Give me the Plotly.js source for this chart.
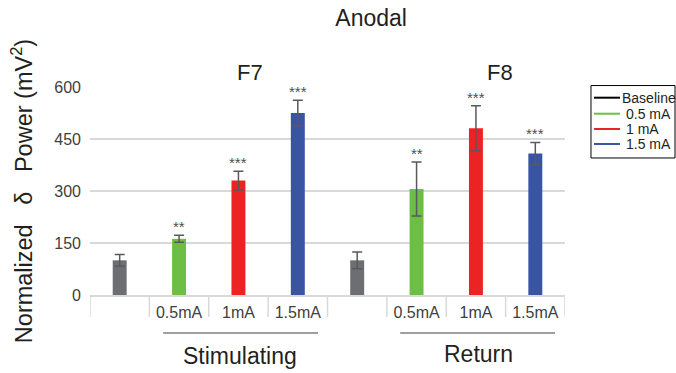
<!DOCTYPE html>
<html>
<head>
<meta charset="utf-8">
<script src="https://cdn.plot.ly/plotly-3.0.1.min.js"></script>
<style>html,body{margin:0;padding:0;background:#fff;}#chart{width:676px;height:373px;}</style>
</head>
<body>
<div id="chart"></div>
<script>
// ---- data ----
const electrodes = ['F7', 'F8'];
const levels = ['Baseline', '0.5mA', '1mA', '1.5mA'];
const tickLabels = ['', '0.5mA', '1mA', '1.5mA', '', '0.5mA', '1mA', '1.5mA'];
const seriesNames = ['Baseline', '0.5 mA', '1 mA', '1.5 mA'];
const groupLabels = ['Stimulating', 'Return'];
const baselineVals = [100, 100];
const baselineErr = [17, 24];
const vals05 = [162, 306];
const err05 = [10, 78];
const vals1 = [330, 481];
const err1 = [27, 65];
const vals15 = [525, 408];
const err15 = [37, 32];
const stars05 = ['**', '**'];
const stars1 = ['***', '***'];
const stars15 = ['***', '***'];
const yTicks = [0, 150, 300, 450, 600];

// ---- build ----
const categories = [];
electrodes.forEach(e => levels.forEach(l => categories.push(e + ' ' + l)));
const shownTickVals = categories.filter((c, i) => tickLabels[i] !== '');
const shownTickText = tickLabels.filter(t => t !== '');
const colors = ['#6d6e71', '#6cbe45', '#ed2224', '#3a54a4'];
const legendLineColors = ['#000000', '#6cbe45', '#ed2224', '#3a54a4'];
const seriesVals = [baselineVals, vals05, vals1, vals15];
const seriesErr = [baselineErr, err05, err1, err15];
const seriesStars = [null, stars05, stars1, stars15];
const FONT = '"Liberation Sans", Arial, sans-serif';

const traces = seriesVals.map((vals, s) => ({
  type: 'bar',
  name: seriesNames[s],
  x: electrodes.map(e => e + ' ' + levels[s]),
  y: vals,
  width: 0.235,
  marker: {color: colors[s]},
  error_y: {type: 'data', array: seriesErr[s], visible: true, color: '#595959', thickness: 1.5, width: 5},
  showlegend: false,
  hoverinfo: 'x+y'
}));

const annotations = [];
const shapes = [];
// significance stars
seriesStars.forEach((st, s) => {
  if (!st) return;
  st.forEach((txt, i) => {
    annotations.push({
      x: electrodes[i] + ' ' + levels[s], xref: 'x',
      y: seriesVals[s][i] + seriesErr[s][i], yref: 'y',
      text: txt, showarrow: false, yanchor: 'bottom', yshift: -2,
      font: {family: FONT, size: 15, color: '#505050'}
    });
  });
});
// electrode labels
const elecX = [0.336, 0.863];
electrodes.forEach((e, i) => annotations.push({
  x: elecX[i], xref: 'paper', y: 1.072, yref: 'paper', text: e, showarrow: false,
  xanchor: 'center', yanchor: 'middle', font: {family: FONT, size: 22, color: '#231f20'}
}));
// group labels and underline
const groupText = [[0.316, -0.293], [0.818, -0.284]];
const groupLine = [[0.154, 0.48], [0.653, 0.979]];
groupLabels.forEach((g, i) => {
  annotations.push({
    x: groupText[i][0], xref: 'paper', y: groupText[i][1], yref: 'paper', text: g, showarrow: false,
    xanchor: 'center', yanchor: 'middle', font: {family: FONT, size: 23, color: '#231f20'}
  });
  shapes.push({type: 'line', xref: 'paper', yref: 'paper', x0: groupLine[i][0], x1: groupLine[i][1],
    y0: -0.183, y1: -0.183, line: {color: '#7f7f7f', width: 1.5}});
});
// category dividers
for (let k = 0; k <= categories.length; k++) {
  shapes.push({type: 'line', xref: 'x', yref: 'paper', x0: k - 0.5, x1: k - 0.5, y0: 0, y1: -0.106,
    line: {color: '#d9d9d9', width: 1.5}});
}
// legend (manual, Excel style)
shapes.push({type: 'rect', xref: 'paper', yref: 'paper', x0: 1.0547, x1: 1.2316, y0: 0.6587, y1: 1.007,
  line: {color: '#000000', width: 1}, fillcolor: 'rgba(0,0,0,0)'});
const legY = [0.9486, 0.8716, 0.798, 0.726];
seriesNames.forEach((n, s) => {
  shapes.push({type: 'line', xref: 'paper', yref: 'paper', x0: 1.0611, x1: 1.1158, y0: legY[s], y1: legY[s],
    line: {color: legendLineColors[s], width: 2}});
  annotations.push({x: s === 0 ? 1.1158 : 1.1232, xref: 'paper', y: legY[s], yref: 'paper', text: n,
    showarrow: false, xanchor: 'left', yanchor: 'middle', font: {family: FONT, size: 14, color: '#231f20'}});
});

const layout = {
  width: 676, height: 373,
  margin: {l: 90, r: 111, t: 87, b: 78},
  paper_bgcolor: '#ffffff', plot_bgcolor: '#ffffff',
  title: {text: 'Anodal', x: 0.549, xref: 'container', xanchor: 'center', y: 0.952, yref: 'container', yanchor: 'middle',
    font: {family: FONT, size: 23, color: '#231f20'}},
  barmode: 'overlay',
  showlegend: false,
  font: {family: FONT},
  xaxis: {type: 'category', categoryorder: 'array', categoryarray: categories, tickvals: shownTickVals, ticktext: shownTickText,
    showgrid: false, showline: true, linecolor: '#d9d9d9', linewidth: 1.5, ticks: '', zeroline: false,
    range: [-0.5, categories.length - 0.5], tickfont: {family: FONT, size: 16, color: '#404040'}, ticklabelstandoff: 2,
    automargin: false},
  yaxis: {range: [0, 600], tickvals: yTicks, ticktext: yTicks.map(String), showgrid: true, gridcolor: '#d9d9d9', gridwidth: 1.5,
    zeroline: false, showline: false, ticks: '', tickfont: {family: FONT, size: 16, color: '#404040'}, ticklabelstandoff: 8,
    automargin: false,
    title: {text: 'Normalized&nbsp;&nbsp;&nbsp;δ&nbsp;&nbsp;&nbsp;Power (mV<sup>2</sup>)', standoff: 15,
      font: {family: FONT, size: 23.5, color: '#231f20'}}},
  annotations: annotations,
  shapes: shapes
};
Plotly.newPlot('chart', traces, layout, {displayModeBar: false, staticPlot: true});
</script>
</body>
</html>
